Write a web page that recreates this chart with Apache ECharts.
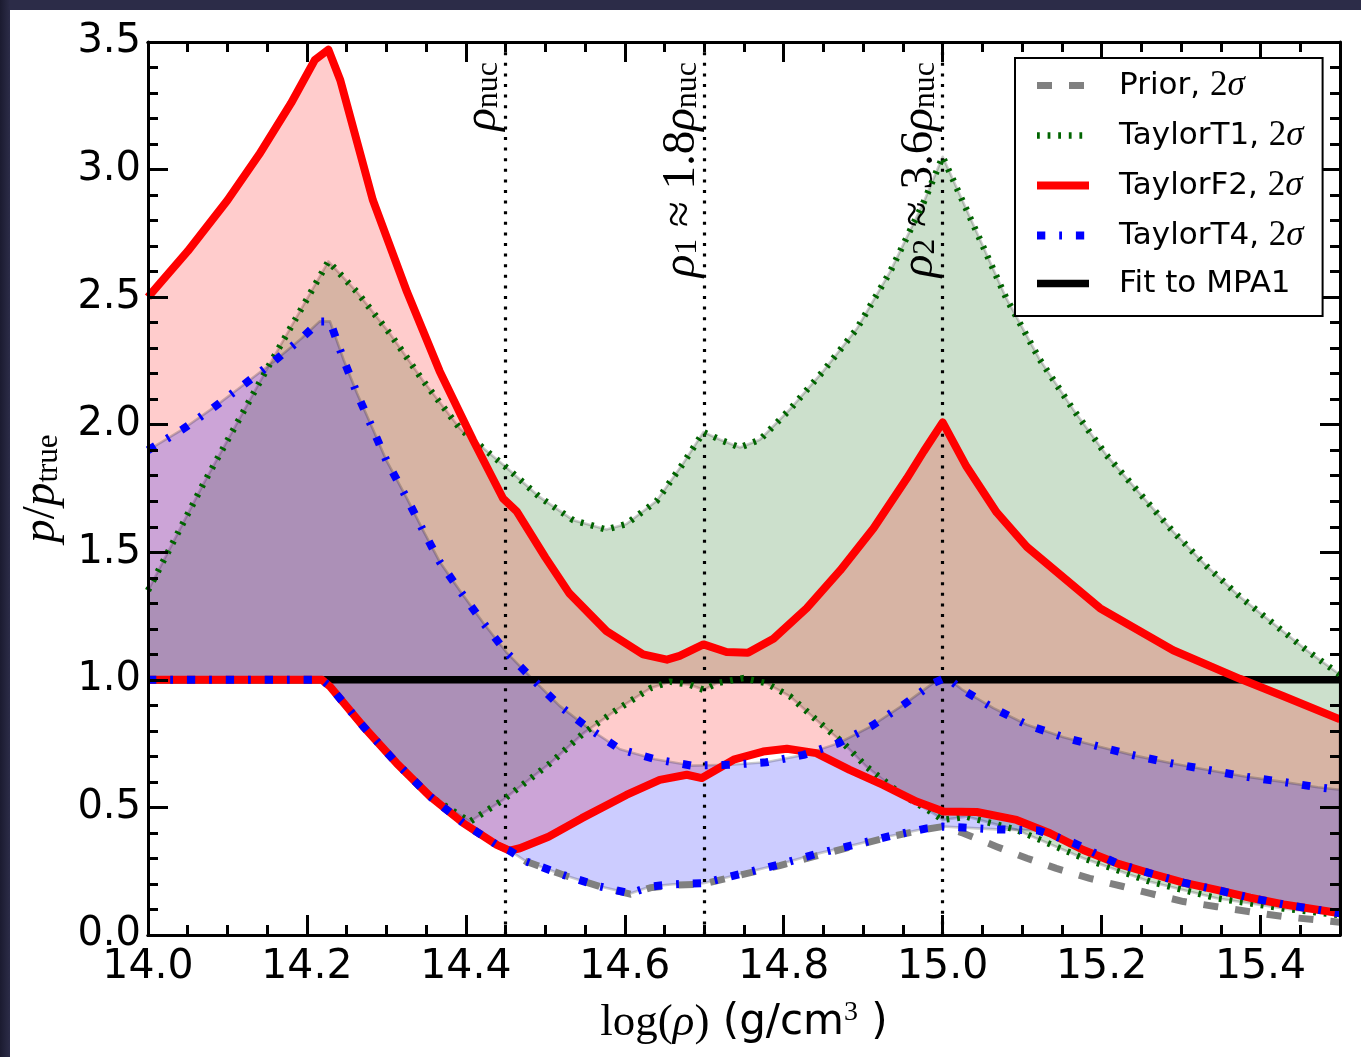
<!DOCTYPE html>
<html>
<head>
<meta charset="utf-8">
<script src="https://cdn.jsdelivr.net/npm/echarts@6/dist/echarts.min.js"></script>
<style>
  html, body { margin: 0; padding: 0; width: 1361px; height: 1057px; overflow: hidden;
    background: linear-gradient(90deg, #1b1b30 0px, #2c2c48 10px); }
  #panel { position: absolute; left: 10px; top: 10px; width: 1351px; height: 1047px; background: #fff; }
  #chart { position: absolute; left: 0; top: 0; width: 1361px; height: 1057px; }
</style>
</head>
<body>
<div id="panel"></div>
<div id="chart"></div>
<script>
// Axis ranges and tick spacing
const xRange = [14.0, 15.5];
const yRange = [0.0, 3.5];
const xMajorStep = 0.2;
const xMinorStep = 0.05;
const yMajorStep = 0.5;

// 2-sigma bounds of p / p_true against log(rho), as [log rho, ratio]
const priorLower = [
  [14.0, 1.0], [14.219, 1.0], [14.229, 0.974], [14.271, 0.817], [14.313, 0.673], [14.355, 0.543],
  [14.397, 0.438], [14.439, 0.353], [14.455, 0.331], [14.476, 0.288], [14.523, 0.235], [14.569, 0.19],
  [14.607, 0.16], [14.632, 0.185], [14.661, 0.195], [14.699, 0.2], [14.749, 0.238], [14.795, 0.272],
  [14.841, 0.31], [14.888, 0.348], [14.934, 0.385], [14.98, 0.415], [15.0, 0.425], [15.026, 0.399],
  [15.068, 0.346], [15.106, 0.301], [15.143, 0.261], [15.185, 0.222], [15.227, 0.19], [15.261, 0.163],
  [15.303, 0.131], [15.345, 0.111], [15.387, 0.091], [15.429, 0.072], [15.5, 0.05]
];

const taylorT1Upper = [
  [14.0, 1.35], [14.07, 1.77], [14.15, 2.22], [14.227, 2.64], [14.263, 2.52], [14.305, 2.355],
  [14.346, 2.173], [14.393, 1.983], [14.447, 1.843], [14.493, 1.716], [14.535, 1.626], [14.577, 1.589],
  [14.602, 1.611], [14.64, 1.701], [14.674, 1.851], [14.699, 1.971], [14.72, 1.941], [14.745, 1.911],
  [14.77, 1.941], [14.808, 2.061], [14.85, 2.211], [14.892, 2.376], [14.934, 2.6], [14.976, 2.871],
  [15.0, 3.05], [15.039, 2.781], [15.08, 2.496], [15.122, 2.256], [15.164, 2.061], [15.206, 1.881],
  [15.248, 1.731], [15.29, 1.581], [15.332, 1.446], [15.374, 1.326], [15.416, 1.221], [15.458, 1.116],
  [15.5, 1.02]
];
const taylorT1Lower = [
  [14.0, 1.0], [14.219, 1.0], [14.229, 0.974], [14.271, 0.817], [14.313, 0.673], [14.355, 0.543],
  [14.405, 0.444], [14.447, 0.53], [14.506, 0.673], [14.548, 0.791], [14.59, 0.883], [14.632, 0.967],
  [14.657, 0.993], [14.682, 0.981], [14.699, 0.961], [14.716, 0.987], [14.749, 1.007], [14.778, 0.987],
  [14.808, 0.935], [14.841, 0.843], [14.875, 0.752], [14.904, 0.66], [14.946, 0.556], [14.988, 0.477],
  [15.0, 0.451], [15.03, 0.464], [15.093, 0.412], [15.177, 0.301], [15.261, 0.209], [15.345, 0.144],
  [15.429, 0.104], [15.5, 0.078]
];

const taylorF2Upper = [
  [14.0, 2.5], [14.05, 2.68], [14.1, 2.88], [14.14, 3.06], [14.18, 3.26], [14.21, 3.43],
  [14.227, 3.47], [14.242, 3.35], [14.283, 2.88], [14.326, 2.52], [14.367, 2.21], [14.409, 1.94],
  [14.447, 1.71], [14.464, 1.66], [14.5, 1.48], [14.53, 1.34], [14.577, 1.191], [14.623, 1.1],
  [14.653, 1.079], [14.669, 1.094], [14.699, 1.139], [14.728, 1.109], [14.755, 1.106], [14.787, 1.161],
  [14.829, 1.281], [14.871, 1.429], [14.913, 1.594], [14.955, 1.79], [14.976, 1.895], [15.0, 2.009],
  [15.03, 1.836], [15.068, 1.656], [15.106, 1.521], [15.198, 1.281], [15.29, 1.116], [15.374, 1.004],
  [15.429, 0.936], [15.5, 0.845]
];
const taylorF2Lower = [
  [14.0, 1.0], [14.219, 1.0], [14.229, 0.974], [14.271, 0.817], [14.313, 0.673], [14.355, 0.543],
  [14.397, 0.438], [14.439, 0.353], [14.455, 0.331], [14.468, 0.34], [14.504, 0.385], [14.546, 0.458],
  [14.602, 0.549], [14.644, 0.608], [14.678, 0.628], [14.697, 0.615], [14.737, 0.687], [14.774, 0.719],
  [14.804, 0.73], [14.841, 0.713], [14.883, 0.647], [14.925, 0.588], [14.967, 0.523], [15.001, 0.484],
  [15.043, 0.482], [15.093, 0.451], [15.135, 0.399], [15.177, 0.333], [15.219, 0.281], [15.261, 0.242],
  [15.303, 0.205], [15.345, 0.177], [15.387, 0.146], [15.429, 0.12], [15.5, 0.085]
];

const taylorT4Upper = [
  [14.0, 1.9], [14.044, 1.983], [14.082, 2.066], [14.12, 2.156], [14.158, 2.247], [14.193, 2.338],
  [14.216, 2.405], [14.229, 2.405], [14.246, 2.256], [14.263, 2.123], [14.284, 1.975], [14.3, 1.86],
  [14.326, 1.71], [14.346, 1.587], [14.367, 1.463], [14.393, 1.347], [14.422, 1.223], [14.451, 1.108],
  [14.485, 1.0], [14.518, 0.898], [14.554, 0.811], [14.594, 0.728], [14.638, 0.689], [14.684, 0.664],
  [14.732, 0.667], [14.778, 0.677], [14.825, 0.706], [14.869, 0.752], [14.911, 0.82], [14.95, 0.901],
  [14.988, 0.987], [15.005, 1.01], [15.024, 0.963], [15.064, 0.889], [15.106, 0.824], [15.152, 0.775],
  [15.196, 0.739], [15.242, 0.703], [15.288, 0.673], [15.334, 0.647], [15.38, 0.621], [15.426, 0.601],
  [15.472, 0.579], [15.5, 0.569]
];
const taylorT4Lower = [
  [14.0, 1.0], [14.219, 1.0], [14.229, 0.974], [14.271, 0.817], [14.313, 0.673], [14.355, 0.543],
  [14.397, 0.438], [14.439, 0.353], [14.455, 0.331], [14.476, 0.288], [14.523, 0.235], [14.569, 0.19],
  [14.607, 0.163], [14.632, 0.19], [14.661, 0.199], [14.699, 0.203], [14.749, 0.242], [14.795, 0.277],
  [14.841, 0.318], [14.888, 0.353], [14.934, 0.388], [14.98, 0.418], [15.0, 0.425], [15.026, 0.421],
  [15.068, 0.414], [15.12, 0.41], [15.164, 0.362], [15.219, 0.281], [15.261, 0.242], [15.303, 0.205],
  [15.345, 0.177], [15.387, 0.146], [15.429, 0.12], [15.5, 0.085]
];

const fitMPA1 = [[14.0, 1.0], [15.5, 1.0]];

// Reference densities marked with vertical dotted lines
const densityMarks = [14.45, 14.7, 15.0];
const densityLabels = [
  '{i|ρ}{b|nuc}',
  '{i|ρ}{b|1}{r| ≈ 1.8}{i|ρ}{b|nuc}',
  '{i|ρ}{b|2}{r| ≈ 3.6}{i|ρ}{b|nuc}'
];

const legendNames = ['Prior, 2σ', 'TaylorT1, 2σ', 'TaylorF2, 2σ', 'TaylorT4, 2σ', 'Fit to MPA1'];

const SERIF = '"Liberation Serif", "DejaVu Serif", serif';
const SANS = '"DejaVu Sans", sans-serif';

// Filled band between an upper and a lower boundary, projected through the axes
function band(upper, lower, fill, z) {
  const outline = upper.concat(lower.slice().reverse());
  return {
    type: 'custom', z: z, silent: true, clip: true,
    xAxisIndex: 0, yAxisIndex: 0,
    data: upper,
    encode: { x: 0, y: 1 },
    renderItem: function (params, api) {
      if (params.dataIndex !== 0) return null;
      return {
        type: 'polygon',
        shape: { points: outline.map(p => api.coord(p)) },
        style: { fill: fill, stroke: 'rgba(0,0,0,0.2)', lineWidth: 2.6, lineJoin: 'round' }
      };
    }
  };
}

function boundary(name, data, color, width, dash, z) {
  return {
    type: 'line', name: name, data: data, z: z,
    xAxisIndex: 0, yAxisIndex: 0,
    symbol: 'none', showSymbol: false, silent: true, smooth: false,
    lineStyle: { color: color, width: width, type: dash, cap: 'butt', join: 'round' },
    itemStyle: { color: color },
    emphasis: { disabled: true }
  };
}

const axisLineStyle = { color: '#000', width: 3 };

function xAxisDef(position, step, tickLen, withLabels) {
  const ax = {
    type: 'value', gridIndex: 0, position: position, min: xRange[0], max: xRange[1], interval: step,
    z: 20,
    axisLine: { show: true, onZero: false, lineStyle: axisLineStyle },
    axisTick: { show: true, inside: true, length: tickLen, lineStyle: { color: '#000', width: 3 } },
    splitLine: { show: false },
    axisLabel: { show: false }
  };
  if (withLabels) {
    ax.axisLabel = {
      show: true, margin: 12, color: '#000', fontFamily: SANS, fontSize: 41,
      showMinLabel: true, showMaxLabel: true,
      formatter: v => (v > xRange[1] - xMajorStep / 4 ? '' : v.toFixed(1))
    };
    ax.name = '{r|log(}{i|ρ}{r|)}{s| (g/cm}{p|3}{s| )}';
    ax.nameLocation = 'middle';
    ax.nameGap = 64;
    ax.nameMoveOverlap = false;
    ax.nameTextStyle = {
      color: '#000',
      rich: {
        r: { fontFamily: SERIF, fontSize: 45, lineHeight: 48, color: '#000' },
        i: { fontFamily: SERIF, fontStyle: 'italic', fontSize: 45, lineHeight: 48, color: '#000' },
        s: { fontFamily: SANS, fontSize: 42, lineHeight: 48, color: '#000' },
        p: { fontFamily: SERIF, fontSize: 28, lineHeight: 30, verticalAlign: 'top', color: '#000' }
      }
    };
  }
  return ax;
}

function yAxisDef(position, withLabels) {
  const ax = {
    type: 'value', gridIndex: 0, position: position, min: yRange[0], max: yRange[1], interval: yMajorStep,
    z: 20,
    axisLine: { show: true, onZero: false, lineStyle: axisLineStyle },
    axisTick: { show: true, inside: true, length: 20, lineStyle: { color: '#000', width: 3 } },
    minorTick: { show: true, splitNumber: 5, length: 10, lineStyle: { color: '#000', width: 3 } },
    splitLine: { show: false },
    minorSplitLine: { show: false },
    axisLabel: { show: false }
  };
  if (withLabels) {
    ax.axisLabel = {
      show: true, margin: 7, color: '#000', fontFamily: SANS, fontSize: 40,
      showMinLabel: true, showMaxLabel: true,
      formatter: v => v.toFixed(1)
    };
    ax.name = '{i|p}{r|/}{i|p}{b|true}';
    ax.nameLocation = 'middle';
    ax.nameRotate = 90;
    ax.nameGap = 84;
    ax.nameMoveOverlap = false;
    ax.nameTextStyle = {
      color: '#000',
      rich: {
        i: { fontFamily: SERIF, fontStyle: 'italic', fontSize: 47, lineHeight: 44, color: '#000' },
        r: { fontFamily: SERIF, fontSize: 47, lineHeight: 44, color: '#000' },
        b: { fontFamily: SERIF, fontSize: 31, lineHeight: 24, verticalAlign: 'bottom', color: '#000' }
      }
    };
  }
  return ax;
}

const chart = echarts.init(document.getElementById('chart'), null, { renderer: 'canvas' });

const fitSeries = boundary('Fit to MPA1', fitMPA1, '#000', 7.5, 'solid', 5);
fitSeries.markLine = {
  silent: true, symbol: ['none', 'none'], animation: false,
  lineStyle: { color: '#000', width: 3.2, type: [3, 7.6], cap: 'butt' },
  label: {
    show: true, position: 'insideEndTop', distance: [20, 1], color: '#000',
    rich: {
      i: { fontFamily: SERIF, fontStyle: 'italic', fontSize: 47, lineHeight: 44, color: '#000' },
      r: { fontFamily: SERIF, fontSize: 47, lineHeight: 44, color: '#000' },
      b: { fontFamily: SERIF, fontSize: 32, lineHeight: 24, verticalAlign: 'bottom', color: '#000' }
    }
  },
  emphasis: { disabled: true },
  data: densityMarks.map((x, i) => ({ xAxis: x, label: { formatter: densityLabels[i] } }))
};

chart.setOption({
  animation: false,
  backgroundColor: 'transparent',
  grid: { left: 148, right: 21, top: 42, bottom: 122, outerBoundsMode: 'none', containLabel: false },
  xAxis: [
    xAxisDef('bottom', xMajorStep, 20, true),
    xAxisDef('bottom', xMinorStep, 10, false),
    xAxisDef('top', xMajorStep, 20, false),
    xAxisDef('top', xMinorStep, 10, false)
  ],
  yAxis: [
    yAxisDef('left', true),
    yAxisDef('right', false)
  ],
  legend: {
    show: true, orient: 'vertical', left: 1015, top: 58, z: 30,
    padding: [10, 19, 17, 18],
    itemWidth: 52, itemHeight: 14, itemGap: 15,
    backgroundColor: '#fff', borderColor: '#000', borderWidth: 2, borderRadius: 0,
    selectedMode: false,
    itemStyle: { opacity: 0 },
    lineStyle: { width: 'inherit', type: 'inherit', color: 'inherit', cap: 'butt' },
    data: legendNames,
    formatter: function (name) {
      const k = name.indexOf(', 2σ');
      if (k < 0) return '{t|' + name + '}';
      return '{t|' + name.slice(0, k) + ', }{d|2}{g|σ}';
    },
    textStyle: {
      padding: [0, 0, 0, 25], color: '#000',
      rich: {
        t: { fontFamily: SANS, fontSize: 31, lineHeight: 30, color: '#000' },
        d: { fontFamily: SERIF, fontSize: 35, lineHeight: 30, color: '#000' },
        g: { fontFamily: SERIF, fontStyle: 'italic', fontSize: 35, lineHeight: 30, color: '#000' }
      }
    }
  },
  series: [
    band(taylorT1Upper, taylorT1Lower, 'rgba(0,100,0,0.2)', 1),
    band(taylorF2Upper, taylorF2Lower, 'rgba(255,0,0,0.2)', 2),
    band(taylorT4Upper, taylorT4Lower, 'rgba(0,0,255,0.2)', 3),
    fitSeries,
    boundary('Prior, 2σ', priorLower, '#808080', 7, [15, 17], 6),
    boundary('TaylorT1, 2σ', taylorT1Upper, '#006400', 6.5, [2.8, 7.8], 7),
    boundary('TaylorT1, 2σ', taylorT1Lower, '#006400', 6.5, [2.8, 7.8], 7),
    boundary('TaylorF2, 2σ', taylorF2Upper, '#ff0000', 8, 'solid', 8),
    boundary('TaylorF2, 2σ', taylorF2Lower, '#ff0000', 8, 'solid', 8),
    boundary('TaylorT4, 2σ', taylorT4Upper, '#0000ff', 8, [8.3, 13.9, 2.8, 13.9], 9),
    boundary('TaylorT4, 2σ', taylorT4Lower, '#0000ff', 8, [8.3, 13.9, 2.8, 13.9], 9)
  ]
});
</script>
</body>
</html>
